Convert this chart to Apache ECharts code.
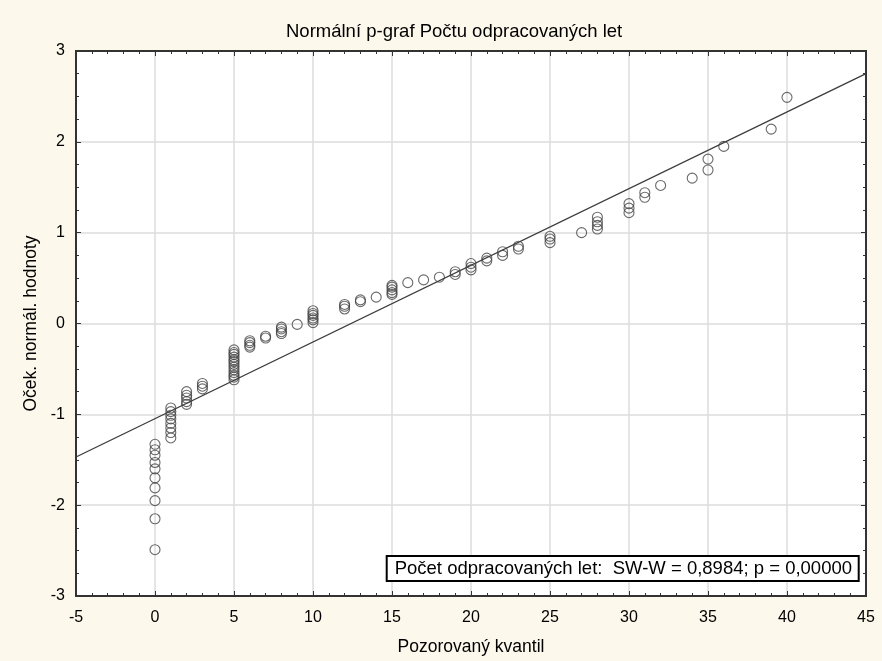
<!DOCTYPE html>
<html>
<head>
<meta charset="utf-8">
<title>Normální p-graf</title>
<script src="https://cdn.jsdelivr.net/npm/echarts@6/dist/echarts.min.js"></script>
<style>
  html, body { margin: 0; padding: 0; background: #fdf8ec; }
  #main { width: 882px; height: 661px; }
</style>
</head>
<body>
<div id="main"></div>
<script type="text/javascript">
// pozorovane hodnoty (x) a ocekavane normalni hodnoty pro kazdou z nich
var pozorovano = [0, 1, 2, 3, 5, 6, 7, 8, 9, 10, 12, 13, 14, 15, 16, 17, 18, 19, 20, 21, 22, 23, 25, 27, 28, 30, 31, 32, 34, 35, 36, 39, 40];
var ocekavano = [
    [-2.49, -2.15, -1.95, -1.81, -1.70, -1.60, -1.53, -1.45, -1.39, -1.33],
    [-1.26, -1.20, -1.15, -1.10, -1.05, -1.01, -0.97, -0.93],
    [-0.89, -0.86, -0.82, -0.79, -0.75],
    [-0.72, -0.69, -0.66],
    [-0.62, -0.59, -0.57, -0.54, -0.51, -0.48, -0.45, -0.42, -0.40, -0.37, -0.34, -0.32, -0.29],
    [-0.26, -0.24, -0.21, -0.19],
    [-0.16, -0.14],
    [-0.11, -0.09, -0.06, -0.04],
    [-0.01],
    [0.01, 0.04, 0.06, 0.09, 0.11, 0.14],
    [0.16, 0.19, 0.21],
    [0.24, 0.26],
    [0.29],
    [0.32, 0.34, 0.37, 0.40, 0.42],
    [0.45],
    [0.48],
    [0.51],
    [0.54, 0.57],
    [0.59, 0.62, 0.66],
    [0.69, 0.72],
    [0.75, 0.79],
    [0.82, 0.85],
    [0.89, 0.93, 0.96],
    [1.00],
    [1.04, 1.08, 1.12, 1.17],
    [1.22, 1.27, 1.32],
    [1.39, 1.44],
    [1.52],
    [1.60],
    [1.69, 1.81],
    [1.95],
    [2.14],
    [2.49]
];
// primka normalniho rozdeleni (koncove body)
var primkaX = [-5, 45];
var primkaY = [-1.47, 2.75];

var body = [];
for (var i = 0; i < pozorovano.length; i++) {
    for (var j = 0; j < ocekavano[i].length; j++) {
        body.push([pozorovano[i], ocekavano[i][j]]);
    }
}
var primka = [[primkaX[0], primkaY[0]], [primkaX[1], primkaY[1]]];

var font = 'Liberation Sans, Arial, sans-serif';
var frame = '#333';

var myChart = echarts.init(document.getElementById('main'));
var option = {
    backgroundColor: '#fdf8ec',
    animation: false,
    title: [{
        text: 'Normální p-graf Počtu odpracovaných let',
        left: 281,
        top: 17,
        textStyle: { fontFamily: font, fontSize: 18.5, fontWeight: 'normal', color: '#000' }
    }, {
        text: 'Počet odpracovaných let:  SW-W = 0,8984; p = 0,00000',
        right: 23,
        top: 556,
        padding: [3, 7, 3, 8],
        backgroundColor: '#fff',
        borderColor: '#000',
        borderWidth: 2,
        textStyle: { fontFamily: font, fontSize: 18.5, fontWeight: 'normal', color: '#000' }
    }],
    grid: {
        left: 76, right: 16, top: 51, bottom: 64,
        show: true, backgroundColor: '#fff', borderColor: frame, borderWidth: 2
    },
    xAxis: [{
        type: 'value', min: -5, max: 45, interval: 5,
        name: 'Pozorovaný kvantil', nameLocation: 'middle', nameGap: 42,
        nameTextStyle: { fontFamily: font, fontSize: 17.5, color: '#000' },
        axisLine: { show: true, onZero: false, lineStyle: { color: frame, width: 2 } },
        axisTick: { show: true, inside: true, length: 5, lineStyle: { color: frame } },
        minorTick: { show: true, splitNumber: 5, length: 3, lineStyle: { color: frame } },
        axisLabel: { fontFamily: font, fontSize: 16, color: '#000', margin: 14 },
        splitLine: { show: true, lineStyle: { color: '#dcdcdc', width: 1.5 } }
    }, {
        type: 'value', min: -5, max: 45, interval: 5, position: 'top',
        axisLine: { show: true, onZero: false, lineStyle: { color: frame, width: 2 } },
        axisTick: { show: true, inside: true, length: 5, lineStyle: { color: frame } },
        minorTick: { show: true, splitNumber: 5, length: 3, lineStyle: { color: frame } },
        axisLabel: { show: false },
        splitLine: { show: false }
    }],
    yAxis: [{
        type: 'value', min: -3, max: 3, interval: 1,
        name: 'Oček. normál. hodnoty', nameLocation: 'middle', nameGap: 36,
        nameTextStyle: { fontFamily: font, fontSize: 17.5, color: '#000' },
        axisLine: { show: true, onZero: false, lineStyle: { color: frame, width: 2 } },
        axisTick: { show: true, inside: true, length: 5, lineStyle: { color: frame } },
        minorTick: { show: true, splitNumber: 4, length: 3, lineStyle: { color: frame } },
        axisLabel: { fontFamily: font, fontSize: 16, color: '#000', margin: 11 },
        splitLine: { show: true, lineStyle: { color: '#dcdcdc', width: 1.5 } }
    }, {
        type: 'value', min: -3, max: 3, interval: 1, position: 'right',
        axisLine: { show: true, onZero: false, lineStyle: { color: frame, width: 2 } },
        axisTick: { show: true, inside: true, length: 5, lineStyle: { color: frame } },
        minorTick: { show: true, splitNumber: 4, length: 3, lineStyle: { color: frame } },
        axisLabel: { show: false },
        splitLine: { show: false }
    }],
    series: [{
        type: 'line',
        data: primka,
        symbol: 'none',
        silent: true,
        lineStyle: { color: '#3c3c3c', width: 1.3 },
        z: 3
    }, {
        type: 'scatter',
        data: body,
        symbol: 'circle',
        symbolSize: 10,
        itemStyle: { color: 'rgba(255,255,255,0)', borderColor: '#444', borderWidth: 1.1 },
        z: 4
    }]
};
myChart.setOption(option);
</script>
</body>
</html>
